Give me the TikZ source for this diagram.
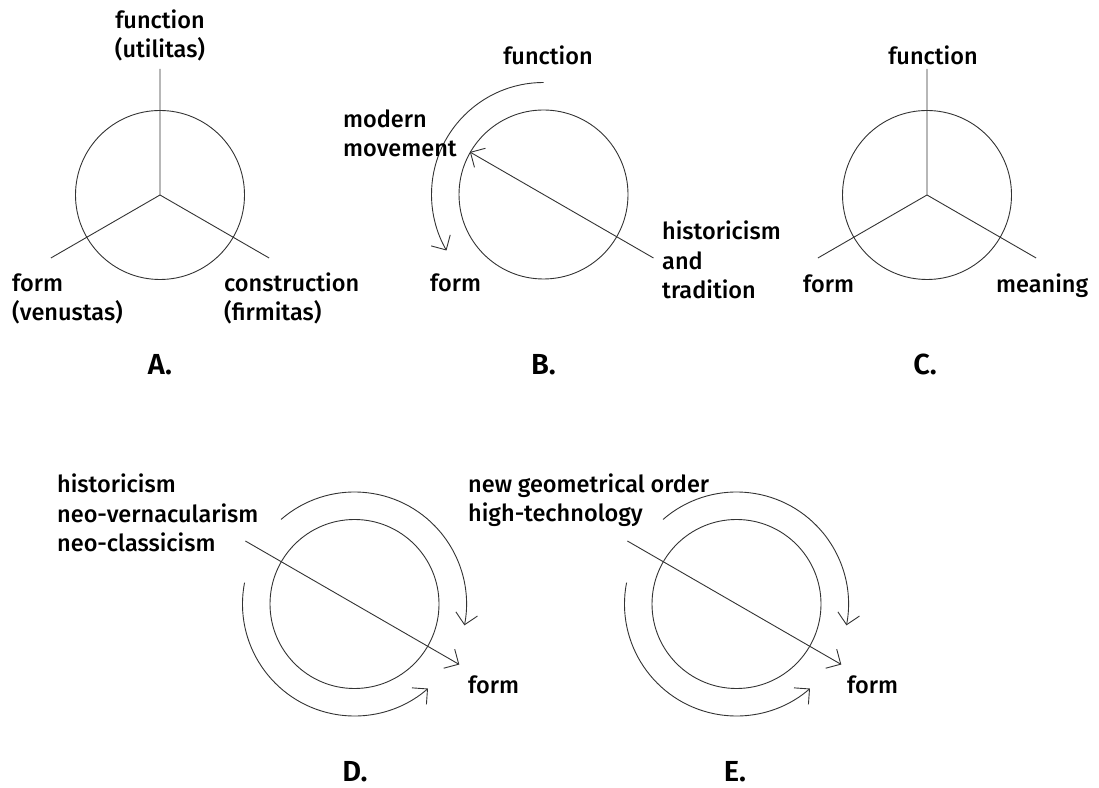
\documentclass[tikz,border=0pt]{standalone}
\usepackage{fontspec}
\setmainfont{Fira Sans Medium}[BoldFont={Fira Sans SemiBold}]
\usetikzlibrary{arrows.meta,calc}
\begin{document}
\begin{tikzpicture}[x=1pt,y=1pt,
  stroke/.style={draw=black!80, line width=0.9pt},
  barb/.style={-{Straight Barb[length=11pt,width=22pt,line width=0.9pt]}},
  lbl/.style={inner sep=0pt, font=\fontsize{23.5}{29.5}\selectfont, align=left},
  midlbl/.style={lbl, anchor=base},
  leftlbl/.style={lbl, anchor=base west},
  letterlbl/.style={inner sep=0pt, anchor=base, font=\fontsize{29}{30}\selectfont\bfseries}]
\useasboundingbox (0,0) rectangle (1099,787);

% ---------- A: Vitruvian triad ----------
\coordinate (A) at (160,592);
\coordinate (Aup) at ($(A)+(90:126)$);
\coordinate (Aleft) at ($(A)+(210:126)$);
\coordinate (Aright) at ($(A)+(330:126)$);
\draw[stroke] (A) circle[radius=84.5];
\draw[stroke] (A) -- (Aup) (A) -- (Aleft) (A) -- (Aright);
\node[midlbl, align=center] (Afun) at (160,729) {function\\(utilitas)};
\node[leftlbl] (Aform) at (12,466) {form\\(venustas)};
\node[leftlbl] (Acon) at (224,466) {construction\\(firmitas)};
\node[letterlbl] (Acap) at (160,412) {A.};

% ---------- B: modern movement ----------
\coordinate (B) at (543.5,592.5);
\coordinate (Bstart) at ($(B)+(90:112)$);
\coordinate (Bfrom) at ($(B)+(330:127)$);
\coordinate (Bto) at ($(B)+(150:85)$);
\draw[stroke] (B) circle[radius=84.5];
\draw[stroke, barb] (Bstart) arc[start angle=90, end angle=210, radius=112];
\draw[stroke, barb] (Bfrom) -- (Bto);
\node[midlbl] (Bfun) at (548,722) {function};
\node[leftlbl] (Bmod) at (343,630) {modern\\movement};
\node[leftlbl] (Bhist) at (662,488) {historicism\\and\\tradition};
\node[leftlbl] (Bform) at (430,495) {form};
\node[letterlbl] (Bcap) at (543.5,412) {B.};

% ---------- C: function, form, meaning ----------
\coordinate (C) at (927,592);
\coordinate (Cup) at ($(C)+(90:126)$);
\coordinate (Cleft) at ($(C)+(210:126)$);
\coordinate (Cright) at ($(C)+(330:126)$);
\draw[stroke] (C) circle[radius=84.5];
\draw[stroke] (C) -- (Cup) (C) -- (Cleft) (C) -- (Cright);
\node[midlbl] (Cfun) at (933,722) {function};
\node[leftlbl] (Cform) at (803,494) {form};
\node[leftlbl] (Cmean) at (996,494) {meaning};
\node[letterlbl] (Ccap) at (925,412) {C.};

% ---------- D and E: cycles towards form ----------
\foreach \c/\x in {D/354.5, E/736.5} {
  \coordinate (\c) at (\x,183);
  \coordinate (\c upper) at ($(\c)+(131:112)$);
  \coordinate (\c lower) at ($(\c)+(169:112)$);
  \coordinate (\c from) at ($(\c)+(150:126)$);
  \coordinate (\c to) at ($(\c)+(-30:121)$);
  \draw[stroke] (\c) circle[radius=84.5];
  \draw[stroke, barb] (\c upper) arc[start angle=131, end angle=-11, radius=112];
  \draw[stroke, barb] (\c lower) arc[start angle=169, end angle=311, radius=112];
  \draw[stroke, barb] (\c from) -- (\c to);
}
\node[leftlbl] (Dlist) at (57,235) {historicism\\neo-vernacularism\\neo-classicism};
\node[leftlbl] (Dform) at (468,94) {form};
\node[letterlbl] (Dcap) at (355,6) {D.};
\node[leftlbl] (Elist) at (468,265) {new geometrical order\\high-technology};
\node[leftlbl] (Eform) at (847,94) {form};
\node[letterlbl] (Ecap) at (735,6) {E.};
\end{tikzpicture}
\end{document}
